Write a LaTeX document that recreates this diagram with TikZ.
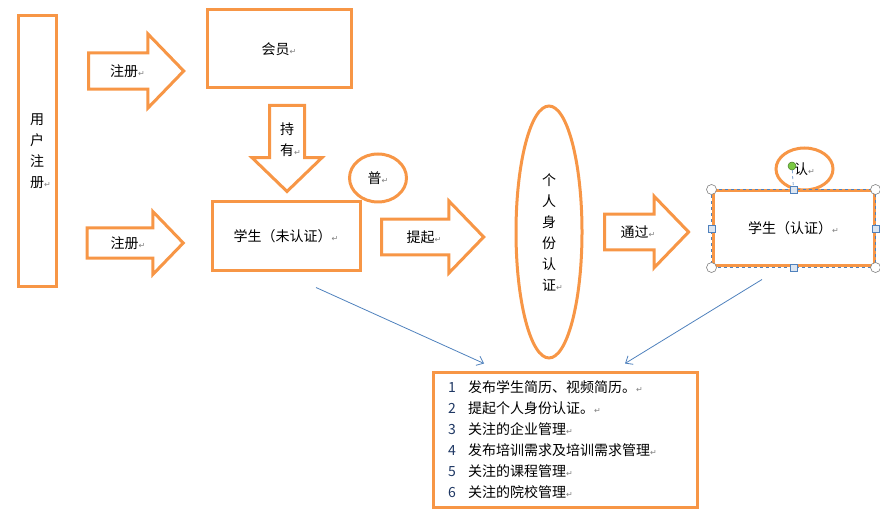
\documentclass[tikz,border=0pt]{standalone}
\usepackage{fontspec}
\setmainfont{Noto Sans CJK SC}
\newfontfamily\markfont{DejaVu Sans}
\usepackage{xcolor}
\definecolor{accent}{HTML}{F79646}
\definecolor{linkblue}{HTML}{4F81BD}
\definecolor{numblue}{HTML}{1F3864}
\definecolor{handlefill}{HTML}{DCE6F2}
\definecolor{grip}{HTML}{7AC943}
\newcommand{\ret}{{\markfont\color{gray}\fontsize{8}{8}\selectfont ↵}}
\newcommand{\itemno}[1]{\makebox[20pt][l]{\color{numblue}#1}}
\usepackage{tikz}
\usetikzlibrary{arrows.meta,shapes.geometric,shapes.arrows}

\begin{document}
\begin{tikzpicture}[x=1pt,y=-1pt,>=Stealth,every node/.style={font=\fontsize{14}{21}\selectfont},
  box/.style={draw=accent,line width=3pt,fill=white,rectangle,inner sep=0pt},
  oval/.style={draw=accent,line width=3pt,fill=white,ellipse,inner sep=0pt},
  blockarrow/.style={draw=accent,line width=3pt,fill=white,single arrow,inner xsep=0pt,inner ysep=10pt,single arrow tip angle=92},
  link/.style={draw=linkblue,line width=0.8pt,-{Straight Barb[length=6pt,width=10pt]}},
  handlecirc/.style={draw=gray,fill=white,circle,line width=0.6pt,minimum size=10pt,inner sep=0pt},
  handlesq/.style={draw=linkblue,fill=handlefill,rectangle,line width=0.6pt,minimum size=7pt,inner sep=0pt}]
\useasboundingbox (0,0) rectangle (880,518);
\node[box,minimum width=38,minimum height=271,align=center] (user) at (37,151.5) {用\\户\\注\\册\rlap{\ret}};
\node[box,minimum width=144,minimum height=78] (member) at (279,49) {会员\ret};
\node[box,minimum width=148,minimum height=69] (unverified) at (286,236.5) {学生（未认证）\ret};
\node[oval,minimum width=57,minimum height=48] (plain) at (378,178) {普\ret};
\node[oval,minimum width=66,minimum height=252,align=center] (idcheck) at (549,232) {个\\人\\身\\份\\认\\证\rlap{\ret}};
\node[box,minimum width=161,minimum height=75] (verified) at (793.5,228.5) {学生（认证）\ret};
\node[oval,minimum width=57,minimum height=42] (certified) at (804.5,169) {认\ret};
\node[blockarrow,minimum height=95,single arrow head extend=19] (reg1) at (127.5,71) {注册\ret};
\node[blockarrow,minimum height=96,inner ysep=7pt,single arrow head extend=16.5] (reg2) at (128,243) {注册\ret};
\node[blockarrow,minimum height=86,inner xsep=9pt,inner ysep=0pt,single arrow head extend=17.5,shape border rotate=270,align=center] (hold) at (287,140) {持\\有\rlap{\ret}};
\node[blockarrow,minimum height=102,single arrow head extend=18] (raise) at (424,237) {提起\ret};
\node[blockarrow,minimum height=84,single arrow head extend=18] (pass) at (638,232) {通过\ret};
\node[box,minimum width=264,minimum height=135,text width=234,inner xsep=15pt,align=left] (list) at (565,439.5) {%
\itemno{1}发布学生简历、视频简历。\ret\\
\itemno{2}提起个人身份认证。\ret\\
\itemno{3}关注的企业管理\ret\\
\itemno{4}发布培训需求及培训需求管理\ret\\
\itemno{5}关注的课程管理\ret\\
\itemno{6}关注的院校管理\ret};
\draw[link] ([xshift=30pt,yshift=-15pt]unverified.south) -- ([xshift=-81pt,yshift=7pt]list.north);
\draw[link] ([xshift=-31.5pt,yshift=-12pt]verified.south) -- ([xshift=60pt,yshift=7pt]list.north);
% selection handles
\draw[linkblue,dashed,line width=0.8pt] (verified.north west) rectangle (verified.south east);
\foreach \a/\n in {north west/nw,north east/ne,south west/sw,south east/se}
  \node[handlecirc] (h-\n) at (verified.\a) {};
\foreach \a/\n in {north/n,south/s,west/w,east/e}
  \node[handlesq] (h-\n) at (verified.\a) {};
\node[draw=grip!60!black,fill=grip,circle,minimum size=8pt,inner sep=0pt,line width=0.5pt] (grip) at (792,166) {};
\draw[linkblue,dashed,line width=0.6pt] (grip) -- (h-n);
\end{tikzpicture}
\end{document}
